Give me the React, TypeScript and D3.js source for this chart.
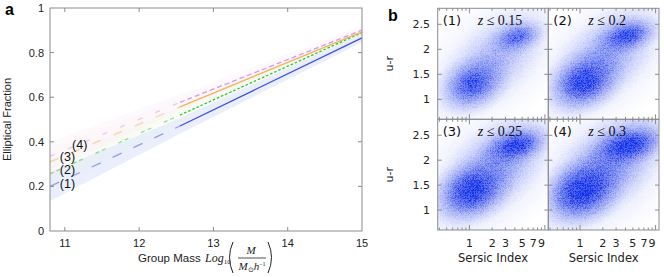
import * as d3 from "d3";

// ---------- panel a: elliptical fraction vs group mass ----------
const massTicks = [11, 12, 13, 14, 15];
const fracTicks = [0, 0.2, 0.4, 0.6, 0.8, 1];
const fracTickLabels = ["0", "0.2", "0.4", "0.6", "0.8", "1"];
const fitMass = [10.8, 12.55, 15];
const fracBlue = [0.2, 0.471, 0.866];
const fracGreen = [0.256, 0.52, 0.89];
const fracOrange = [0.31, 0.557, 0.893];
const fracPurple = [0.335, 0.577, 0.901];
const bandHalfWidth = [0.065, 0.035, 0.02];
const sampleLabels = ["(1)", "(2)", "(3)", "(4)"];
const sampleLabelMass = [11.035, 11.035, 11.035, 11.2];
const sampleLabelFrac = [0.215, 0.277, 0.333, 0.386];

// ---------- panel b: u-r vs sersic index ----------
const redshiftCuts = ["0.15", "0.2", "0.25", "0.3"];
const sersicTicks = [1, 2, 3, 5, 7, 9];
const sersicMinor = [0.4, 0.5, 0.6, 0.7, 0.8, 0.9, 2, 3, 4, 5, 6, 7, 8, 9];
const sersicMajor = [1, 10];
const colourTicks = [1, 1.5, 2, 2.5];
const colourTickLabels = ["1", "1.5", "2", "2.5"];

// density clumps: centre (n, u-r), spread (dex, mag), tilt, weight
type Blob = { n: number; ur: number; sn: number; sur: number; tilt: number; w: number };
const densitySample1: Blob[] = [
  { n: 2.0, ur: 1.75, sn: 1.6, sur: 1.3, tilt: 40, w: 0.16 },
  { n: 2.0, ur: 1.75, sn: 1.1, sur: 0.8, tilt: 45, w: 0.3 },
  { n: 1.1, ur: 1.3, sn: 0.55, sur: 0.62, tilt: 25, w: 0.75 },
  { n: 4.3, ur: 2.25, sn: 0.45, sur: 0.38, tilt: 15, w: 0.6 },
  { n: 1.1, ur: 1.3, sn: 0.3, sur: 0.35, tilt: 25, w: 0.35 },
  { n: 4.3, ur: 2.25, sn: 0.25, sur: 0.2, tilt: 15, w: 0.3 },
];
const densitySample2: Blob[] = [
  { n: 2.0, ur: 1.78, sn: 1.6, sur: 1.3, tilt: 40, w: 0.2 },
  { n: 2.0, ur: 1.78, sn: 1.12, sur: 0.82, tilt: 45, w: 0.38 },
  { n: 1.13, ur: 1.35, sn: 0.6, sur: 0.66, tilt: 25, w: 0.9 },
  { n: 4.1, ur: 2.27, sn: 0.52, sur: 0.4, tilt: 15, w: 0.8 },
  { n: 1.13, ur: 1.35, sn: 0.35, sur: 0.4, tilt: 25, w: 0.55 },
  { n: 4.1, ur: 2.27, sn: 0.3, sur: 0.22, tilt: 15, w: 0.5 },
];
const densitySample3: Blob[] = [
  { n: 2.0, ur: 1.8, sn: 1.65, sur: 1.35, tilt: 40, w: 0.22 },
  { n: 2.0, ur: 1.8, sn: 1.15, sur: 0.84, tilt: 45, w: 0.44 },
  { n: 1.08, ur: 1.39, sn: 0.62, sur: 0.68, tilt: 25, w: 0.95 },
  { n: 4.1, ur: 2.29, sn: 0.54, sur: 0.42, tilt: 15, w: 0.9 },
  { n: 1.08, ur: 1.39, sn: 0.38, sur: 0.42, tilt: 25, w: 0.65 },
  { n: 4.1, ur: 2.29, sn: 0.32, sur: 0.24, tilt: 15, w: 0.65 },
];
const densitySample4: Blob[] = [
  { n: 2.1, ur: 1.82, sn: 1.7, sur: 1.4, tilt: 40, w: 0.26 },
  { n: 2.1, ur: 1.82, sn: 1.2, sur: 0.86, tilt: 45, w: 0.5 },
  { n: 1.09, ur: 1.39, sn: 0.64, sur: 0.72, tilt: 25, w: 1 },
  { n: 4.3, ur: 2.29, sn: 0.6, sur: 0.46, tilt: 15, w: 1 },
  { n: 1.09, ur: 1.39, sn: 0.42, sur: 0.45, tilt: 25, w: 0.75 },
  { n: 4.3, ur: 2.29, sn: 0.38, sur: 0.27, tilt: 15, w: 0.75 },
];
const densities = [densitySample1, densitySample2, densitySample3, densitySample4];

const W = 664;
const H = 277;
const sansA = "'Liberation Sans', Arial, sans-serif";
const sansB = "'DejaVu Sans', sans-serif";
const serif = "'Liberation Serif', 'Times New Roman', serif";
const frameGrey = "#8c8c8c";

const seriesStyle = [
  { values: fracBlue, color: "#3b4fe0", band: "#d3daf8", bandOp: 0.45, dashLo: "10,13", dashHi: "none" },
  { values: fracGreen, color: "#1fd11f", band: "#dcf6dc", bandOp: 0.12, dashLo: "4,3,4,14", dashHi: "2.5,2" },
  { values: fracOrange, color: "#f4b35a", band: "#fbe9cc", bandOp: 0.12, dashLo: "9,14", dashHi: "none" },
  { values: fracPurple, color: "#d399f0", band: "#f1def9", bandOp: 0.15, dashLo: "5,14", dashHi: "5,3" },
];

export default function App() {
  // panel a scales
  const xA = d3.scaleLinear().domain([10.8, 15]).range([50, 362]);
  const yA = d3.scaleLinear().domain([0, 1]).range([231, 8]);
  const line = d3
    .line<[number, number]>()
    .x((d) => xA(d[0]))
    .y((d) => yA(d[1]));
  const area = d3
    .area<[number, number, number]>()
    .x((d) => xA(d[0]))
    .y0((d) => yA(d[1] - d[2]))
    .y1((d) => yA(d[1] + d[2]));

  // panel b scales
  const colLeft = [437.7, 548.3];
  const colRight = [548.3, 659];
  const rowTop = [8.3, 119.3];
  const rowBottom = [119.3, 230];
  const cells = [0, 1, 2, 3].map((i) => {
    const c = i % 2;
    const r = Math.floor(i / 2);
    const x = d3.scaleLog().domain([0.38, 11.1]).range([colLeft[c], colRight[c]]);
    const y = d3.scaleLinear().domain([0.6, 2.82]).range([rowBottom[r], rowTop[r]]);
    return { i, c, r, x, y };
  });
  const pxPerDex = (colRight[0] - colLeft[0]) / Math.log10(11.1 / 0.38);
  const pxPerMag = (rowBottom[0] - rowTop[0]) / (2.82 - 0.6);

  return (
    <svg
      width={W}
      height={H}
      style={{ position: "fixed", left: 0, top: 0, background: "#fff" }}
      fontFamily={sansA}
    >
      <defs>
        <radialGradient id="blobGrad">
          <stop offset="0" stopColor="#0f2ef4" stopOpacity={1} />
          <stop offset="0.2" stopColor="#1230f4" stopOpacity={0.9} />
          <stop offset="0.4" stopColor="#1a36f2" stopOpacity={0.62} />
          <stop offset="0.6" stopColor="#2440f2" stopOpacity={0.33} />
          <stop offset="0.8" stopColor="#3048f2" stopOpacity={0.12} />
          <stop offset="1" stopColor="#4055f2" stopOpacity={0} />
        </radialGradient>
        <filter id="grain" x="0" y="0" width="100%" height="100%">
          <feTurbulence type="turbulence" baseFrequency="1.6" numOctaves={1} seed={5} result="noise" />
          <feColorMatrix
            in="noise"
            type="matrix"
            values="1.6 0 0 0 0  1.6 0 0 0 0  1.6 0 0 0 0  1.6 0 0 0 0"
            result="grey"
          />
          <feComposite in="SourceGraphic" in2="grey" operator="arithmetic" k1={0.55} k2={0.75} k3={0} k4={0} />
        </filter>
        {cells.map((cell) => (
          <clipPath id={`cell${cell.i}`} key={cell.i}>
            <rect
              x={cell.x.range()[0]}
              y={cell.y.range()[1]}
              width={cell.x.range()[1] - cell.x.range()[0]}
              height={cell.y.range()[0] - cell.y.range()[1]}
            />
          </clipPath>
        ))}
      </defs>

      {/* ---------------- panel a ---------------- */}
      <text x={5} y={15} fontSize={16} fontWeight="bold">a</text>

      {seriesStyle.map((s, k) => (
        <path
          key={`band${k}`}
          d={area(fitMass.map((m, j) => [m, s.values[j], bandHalfWidth[j]] as [number, number, number])) ?? ""}
          fill={s.band}
          opacity={s.bandOp}
        />
      ))}
      {seriesStyle.map((s, k) => (
        <g key={`line${k}`}>
          <path
            d={line([[fitMass[0], s.values[0]], [fitMass[1], s.values[1]]]) ?? ""}
            fill="none"
            stroke={s.color}
            strokeWidth={1.3}
            strokeDasharray={s.dashLo}
            opacity={0.5}
          />
          <path
            d={line([[fitMass[1], s.values[1]], [fitMass[2], s.values[2]]]) ?? ""}
            fill="none"
            stroke={s.color}
            strokeWidth={1.3}
            strokeDasharray={s.dashHi}
          />
        </g>
      ))}

      {/* frame and ticks */}
      <rect x={50} y={8} width={312} height={223} fill="none" stroke={frameGrey} strokeWidth={1} />
      {massTicks.slice(0, 4).map((t) => (
        <g key={`mt${t}`} stroke={frameGrey}>
          <line x1={xA(t)} x2={xA(t)} y1={231} y2={227} />
          <line x1={xA(t)} x2={xA(t)} y1={8} y2={12} />
        </g>
      ))}
      {fracTicks.slice(1, 5).map((t) => (
        <g key={`ft${t}`} stroke={frameGrey}>
          <line x1={50} x2={54} y1={yA(t)} y2={yA(t)} />
          <line x1={362} x2={358} y1={yA(t)} y2={yA(t)} />
        </g>
      ))}
      {massTicks.map((t) => (
        <text key={`ml${t}`} x={xA(t)} y={247} fontSize={11} textAnchor="middle" fill="#222">
          {t}
        </text>
      ))}
      {fracTicks.map((t, j) => (
        <text key={`fl${t}`} x={44} y={yA(t) + 4} fontSize={11} textAnchor="end" fill="#222">
          {fracTickLabels[j]}
        </text>
      ))}
      {sampleLabels.map((lab, k) => (
        <text
          key={lab}
          x={xA(sampleLabelMass[k])}
          y={yA(sampleLabelFrac[k]) + 4.5}
          fontSize={12.5}
          textAnchor="middle"
          fill="#111"
        >
          {lab}
        </text>
      ))}
      <text
        transform={`translate(11, ${(8 + 231) / 2}) rotate(-90)`}
        fontSize={11}
        textAnchor="middle"
        fill="#222"
      >
        Elliptical Fraction
      </text>
      <text x={138} y={262} fontSize={11.5} fill="#222">Group Mass</text>
      <text x={205} y={262} fontSize={12} fontFamily={serif} fontStyle="italic" fill="#222">
        Log<tspan fontSize={7} dy={2} fontStyle="normal">10</tspan>
      </text>
      <path d="M233,242 Q226,257.5 233,273" fill="none" stroke="#222" strokeWidth={1} />
      <path d="M268,242 Q275,257.5 268,273" fill="none" stroke="#222" strokeWidth={1} />
      <text x={251} y={254} fontSize={11} fontFamily={serif} fontStyle="italic" textAnchor="middle" fill="#222">
        M
      </text>
      <line x1={238} x2={266} y1={258} y2={258} stroke="#222" strokeWidth={0.8} />
      <text x={252} y={270} fontSize={11} fontFamily={serif} textAnchor="middle" fill="#222">
        <tspan fontStyle="italic">M</tspan>
        <tspan fontSize={7} dy={2}>⊙</tspan>
        <tspan fontStyle="italic" dy={-2}>h</tspan>
        <tspan fontSize={6} dy={-4}>−1</tspan>
      </text>

      {/* ---------------- panel b ---------------- */}
      <text x={388} y={21} fontSize={16} fontWeight="bold">b</text>

      {cells.map((cell) => {
        const [x0, x1] = cell.x.range();
        const [y1, y0] = cell.y.range();
        return (
          <g key={`cell${cell.i}`} fontFamily={sansB}>
            <g clipPath={`url(#cell${cell.i})`}>
              <g filter="url(#grain)">
                <rect x={x0} y={y0} width={x1 - x0} height={y1 - y0} fill="#fff" opacity={0.01} />
                {densities[cell.i].map((b, j) => (
                  <ellipse
                    key={j}
                    transform={`translate(${cell.x(b.n)}, ${cell.y(b.ur)}) rotate(${-b.tilt})`}
                    rx={b.sn * pxPerDex}
                    ry={b.sur * pxPerMag}
                    fill="url(#blobGrad)"
                    opacity={b.w}
                  />
                ))}
              </g>
            </g>
            <rect x={x0} y={y0} width={x1 - x0} height={y1 - y0} fill="none" stroke={frameGrey} />
            {sersicMinor.map((t) => (
              <g key={`sm${t}`} stroke={frameGrey}>
                <line x1={cell.x(t)} x2={cell.x(t)} y1={y1} y2={y1 - 2.5} />
                <line x1={cell.x(t)} x2={cell.x(t)} y1={y0} y2={y0 + 2.5} />
              </g>
            ))}
            {sersicMajor.map((t) => (
              <g key={`sM${t}`} stroke={frameGrey}>
                <line x1={cell.x(t)} x2={cell.x(t)} y1={y1} y2={y1 - 5} />
                <line x1={cell.x(t)} x2={cell.x(t)} y1={y0} y2={y0 + 5} />
              </g>
            ))}
            {colourTicks.map((t) => (
              <g key={`ct${t}`} stroke={frameGrey}>
                <line x1={x0} x2={x0 + 4} y1={cell.y(t)} y2={cell.y(t)} />
                <line x1={x1} x2={x1 - 4} y1={cell.y(t)} y2={cell.y(t)} />
              </g>
            ))}
            {cell.c === 0 &&
              colourTicks.map((t, j) => (
                <text key={`cl${t}`} x={430} y={cell.y(t) + 4} fontSize={11} textAnchor="end" fill="#222">
                  {colourTickLabels[j]}
                </text>
              ))}
            {cell.c === 0 && (
              <text
                transform={`translate(393, ${(y0 + y1) / 2}) rotate(-90)`}
                fontSize={11}
                textAnchor="middle"
                fill="#222"
              >
                u-r
              </text>
            )}
            {cell.r === 1 &&
              sersicTicks.map((t) => (
                <text key={`sl${t}`} x={cell.x(t)} y={247} fontSize={11} textAnchor="middle" fill="#222">
                  {t}
                </text>
              ))}
            {cell.r === 1 && (
              <text x={(x0 + x1) / 2} y={262} fontSize={11.5} textAnchor="middle" fill="#222">
                Sersic Index
              </text>
            )}
            <text x={x0 + 5} y={y0 + 17} fontSize={13} fill="#111">
              ({cell.i + 1})
            </text>
            <text x={x0 + 40} y={y0 + 17} fontSize={14} fontFamily={serif} fill="#111">
              <tspan fontStyle="italic">z</tspan> ≤ {redshiftCuts[cell.i]}
            </text>
          </g>
        );
      })}
    </svg>
  );
}
